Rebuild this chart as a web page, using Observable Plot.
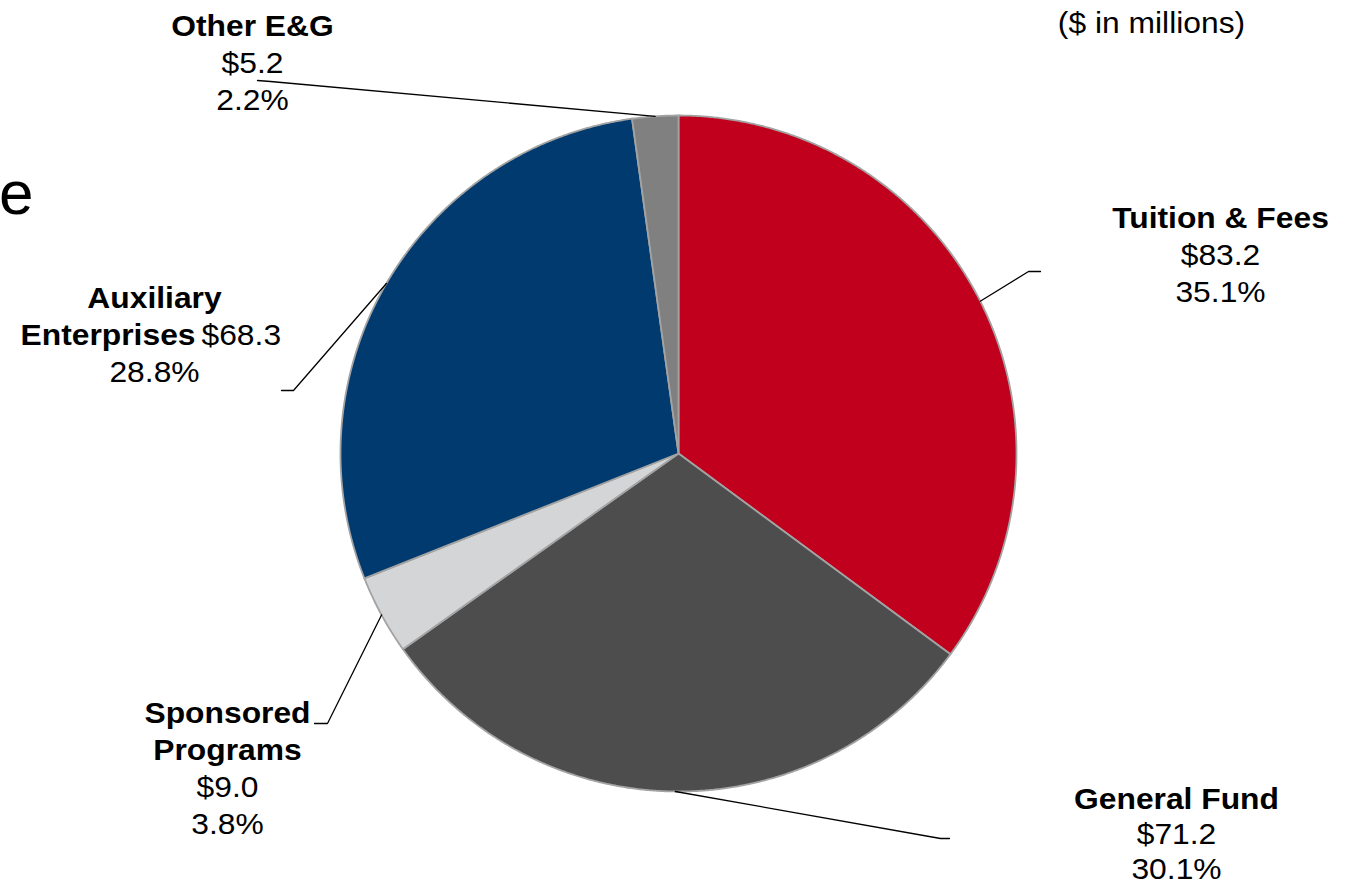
<!DOCTYPE html>
<html><head><meta charset="utf-8">
<script src="https://cdn.jsdelivr.net/npm/d3@7"></script>
<script src="https://cdn.jsdelivr.net/npm/@observablehq/plot@0.6"></script>
<style>body{margin:0;background:#fff;overflow:hidden}</style>
</head><body><div id="chart"></div>
<script>
// ---- data ----
const categories = ["Tuition & Fees", "General Fund", "Sponsored Programs", "Auxiliary Enterprises", "Other E&G"];
const values = [83.2, 71.2, 9.0, 68.3, 5.2];
const percents = ["35.1%", "30.1%", "3.8%", "28.8%", "2.2%"];
const nameLines = [["Tuition & Fees"], ["General Fund"], ["Sponsored", "Programs"], ["Auxiliary", "Enterprises"], ["Other E&G"]];
const colors = ["#C0001C", "#4D4D4D", "#D4D5D7", "#003A6E", "#808080"];
const unitNote = "($ in millions)";

// ---- layout (positions only) ----
const W = 1356, H = 885, cx = 678, cy = 453, R = 338;
const FS = 30, STRETCH = 1.06;
const labelAnchor = [[1220, 227], [1176, 808], [227, 722], [154, 307], [252, 35]];
const lineHeights = [37, 35, 37, 37, 37];
const leaderBends = [[[1028, 271], [1040, 271]], [[940, 838], [949, 838]], [[327, 723], [314, 723]], [[293, 390], [281, 390]], [[270, 81], [257, 80]]];
const inlineValue = [false, false, false, true, false];

const arcs = d3.pie().sort(null).value(d => d)(values);
const pt = (a, r) => [cx + r * Math.sin(a), cy - r * Math.cos(a)];

const slicePts = [];
arcs.forEach((a, i) => {
  slicePts.push({name: categories[i], color: colors[i], x: cx, y: cy});
  const n = Math.max(2, Math.ceil((a.endAngle - a.startAngle) / 0.005));
  for (let k = 0; k <= n; k++) {
    const t = a.startAngle + (a.endAngle - a.startAngle) * k / n;
    const [x, y] = pt(t, R);
    slicePts.push({name: categories[i], color: colors[i], x, y});
  }
});

const leaderPts = [];
arcs.forEach((a, i) => {
  const [x, y] = pt((a.startAngle + a.endAngle) / 2, R);
  leaderPts.push({name: categories[i], x, y});
  leaderBends[i].forEach(([bx, by]) => leaderPts.push({name: categories[i], x: bx, y: by}));
});

const boldRows = [], regRows = [], endRows = [], startRows = [];
categories.forEach((c, i) => {
  const [ax, ay] = labelAnchor[i];
  let line = 0;
  const yOf = l => ay + l * lineHeights[i] - 0.32 * FS;
  const money = "$" + values[i].toFixed(1);
  nameLines[i].forEach((t, j) => {
    const last = j === nameLines[i].length - 1;
    if (last && inlineValue[i]) {
      endRows.push({x: ax + 41, y: yOf(line), text: t});
      startRows.push({x: ax + 47, y: yOf(line), text: money});
    } else {
      boldRows.push({x: ax, y: yOf(line), text: t});
    }
    line++;
  });
  if (!inlineValue[i]) { regRows.push({x: ax, y: yOf(line), text: money}); line++; }
  regRows.push({x: ax, y: yOf(line), text: percents[i]});
});

const font = "'Liberation Sans', Arial, sans-serif";
const chart = Plot.plot({
  width: W, height: H, margin: 0,
  x: {domain: [0, W], range: [0, W], axis: null},
  y: {domain: [0, H], range: [0, H], axis: null},
  color: {type: "identity"},
  style: {fontFamily: font, background: "white", overflow: "visible"},
  marks: [
    Plot.line(slicePts, {x: "x", y: "y", z: "name", fill: "color", stroke: "#A3A3A3", strokeWidth: 1.8, strokeLinejoin: "round", curve: "linear-closed"}),
    Plot.line(leaderPts, {x: "x", y: "y", z: "name", stroke: "black", strokeWidth: 1.3}),
    Plot.text(boldRows, {x: "x", y: "y", text: "text", fontSize: FS, fontWeight: "bold", fill: "black", textAnchor: "middle"}),
    Plot.text(regRows, {x: "x", y: "y", text: "text", fontSize: FS, fill: "black", textAnchor: "middle"}),
    Plot.text(endRows, {x: "x", y: "y", text: "text", fontSize: FS, fontWeight: "bold", fill: "black", textAnchor: "end"}),
    Plot.text(startRows, {x: "x", y: "y", text: "text", fontSize: FS, fill: "black", textAnchor: "start"}),
    Plot.text([unitNote], {x: 1151, y: 32 - 0.32 * FS, text: d => d, fontSize: FS, fill: "black", textAnchor: "middle"}),
    Plot.text(["e"], {x: 33, y: 213 - 0.32 * 62, text: d => d, fontSize: 62, fill: "black", textAnchor: "end"})
  ]
});
// slight horizontal stretch of the label text, as in the reference
chart.querySelectorAll("text").forEach(t => {
  const tr = t.getAttribute("transform");
  if (tr && t.textContent !== "e") t.setAttribute("transform", tr + ` scale(${STRETCH},1)`);
});
document.getElementById("chart").appendChild(chart);
</script>
</body></html>
